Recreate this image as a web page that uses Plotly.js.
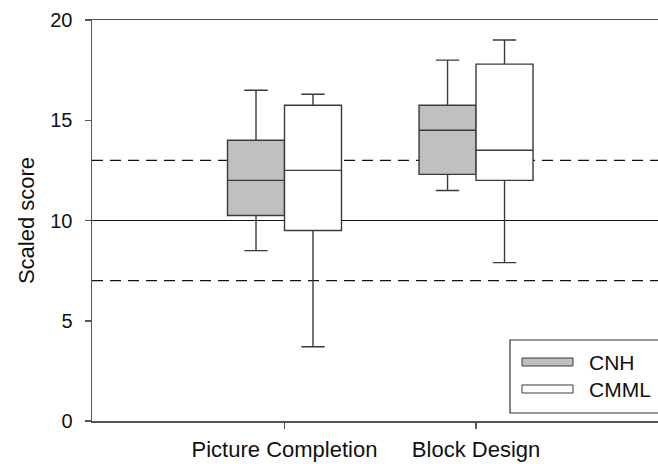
<!DOCTYPE html>
<html>
<head>
<meta charset="utf-8">
<script src="https://cdn.plot.ly/plotly-3.0.1.min.js"></script>
<style>html,body{margin:0;padding:0;background:#fff;}#chart{width:658px;height:464px;}</style>
</head>
<body>
<div id="chart"></div>
<script>
// ---- data ----
const categories = ["Picture Completion", "Block Design"];
const seriesNames = ["CNH", "CMML"];
const cnhLower  = [8.5, 11.5];
const cnhQ1     = [10.25, 12.3];
const cnhMedian = [12.0, 14.5];
const cnhQ3     = [14.0, 15.75];
const cnhUpper  = [16.5, 18.0];
const cmmlLower  = [3.7, 7.9];
const cmmlQ1     = [9.5, 12.0];
const cmmlMedian = [12.5, 13.5];
const cmmlQ3     = [15.75, 17.8];
const cmmlUpper  = [16.3, 19.0];
const yTicks = [0, 5, 10, 15, 20];
const normMean = 10;
const normBand = [7, 13];

const FONT = "Arial, 'Liberation Sans', sans-serif";
const lineCol = "#3a3a3a";

function boxTrace(name, lf, q1, med, q3, uf, fill) {
  return {
    type: "box", name: name, x: categories,
    lowerfence: lf, q1: q1, median: med, q3: q3, upperfence: uf,
    boxpoints: false, fillcolor: fill,
    line: {color: lineCol, width: 1.4},
    whiskerwidth: 0.41, showlegend: false, hoverinfo: "skip"
  };
}

const data = [
  boxTrace(seriesNames[0], cnhLower, cnhQ1, cnhMedian, cnhQ3, cnhUpper, "#c0c0c0"),
  boxTrace(seriesNames[1], cmmlLower, cmmlQ1, cmmlMedian, cmmlQ3, cmmlUpper, "#ffffff")
];

const shapes = [
  {type: "line", xref: "paper", x0: 0, x1: 1, yref: "y", y0: normMean, y1: normMean,
   line: {color: "#111", width: 1.2}, layer: "below"},
  {type: "line", xref: "paper", x0: 0, x1: 1, yref: "y", y0: normBand[0], y1: normBand[0],
   line: {color: "#111", width: 1.2, dash: "11px,7px"}, layer: "below"},
  {type: "line", xref: "paper", x0: 0, x1: 1, yref: "y", y0: normBand[1], y1: normBand[1],
   line: {color: "#111", width: 1.2, dash: "11px,7px"}, layer: "below"},
  // legend frame
  {type: "rect", xref: "paper", yref: "paper", x0: 0.7385, x1: 1.05, y0: 0.02, y1: 0.202,
   line: {color: "#333", width: 1.2}, fillcolor: "#fff"},
  // swatches
  {type: "rect", xref: "paper", yref: "paper", x0: 0.7597, x1: 0.8498, y0: 0.1372, y1: 0.1571,
   line: {color: lineCol, width: 1}, fillcolor: "#c0c0c0"},
  {type: "rect", xref: "paper", yref: "paper", x0: 0.7597, x1: 0.8498, y0: 0.0698, y1: 0.0898,
   line: {color: lineCol, width: 1}, fillcolor: "#ffffff"}
];

const annotations = [
  {xref: "paper", yref: "paper", x: 0.8746, y: 0.1471, xanchor: "left", yanchor: "middle",
   text: seriesNames[0], showarrow: false, font: {family: FONT, size: 21, color: "#111"}},
  {xref: "paper", yref: "paper", x: 0.8746, y: 0.0798, xanchor: "left", yanchor: "middle",
   text: seriesNames[1], showarrow: false, font: {family: FONT, size: 21, color: "#111"}}
];

const layout = {
  width: 658, height: 464,
  margin: {l: 92, r: 0, t: 20, b: 43, pad: 0},
  paper_bgcolor: "#fff", plot_bgcolor: "#fff",
  font: {family: FONT, color: "#111"},
  boxmode: "group", boxgap: 0.405, boxgroupgap: 0,
  showlegend: false,
  xaxis: {
    type: "category", categoryarray: categories, range: [-1.005, 1.95],
    showgrid: false, zeroline: false, showline: true, mirror: true,
    linecolor: "#555", linewidth: 1.5,
    ticks: "outside", ticklen: 6, tickwidth: 1.5, tickcolor: "#555",
    tickfont: {family: FONT, size: 22, color: "#111"}, ticklabelstandoff: 2,
    fixedrange: true
  },
  yaxis: {
    range: [0, 20], tickvals: yTicks, ticktext: yTicks.map(String),
    showgrid: false, zeroline: false, showline: true,
    linecolor: "#555", linewidth: 1.5,
    ticks: "outside", ticklen: 6, tickwidth: 1.5, tickcolor: "#555",
    tickfont: {family: FONT, size: 20, color: "#111"}, ticklabelstandoff: 8,
    title: {text: "Scaled score", font: {family: FONT, size: 22, color: "#111"}, standoff: 9},
    automargin: false, fixedrange: true
  },
  shapes: shapes,
  annotations: annotations
};

Plotly.newPlot("chart", data, layout, {displayModeBar: false, staticPlot: true});
</script>
</body>
</html>
